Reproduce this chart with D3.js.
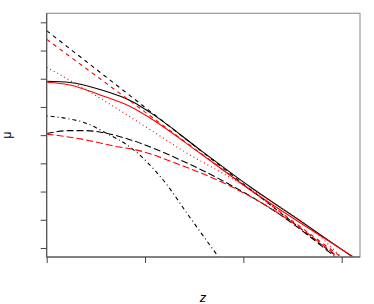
<!DOCTYPE html>
<html>
<head>
<meta charset="utf-8">
<script src="https://cdn.jsdelivr.net/npm/d3@7"></script>
<style>
  body { margin: 0; background: #fff; }
  svg { display: block; }
</style>
</head>
<body>
<div id="graph"></div>
<script>
// values (z on x, mu on y)
var zTicks = [0, 1, 2, 3];
var muTicks = [0, 1, 2, 3, 4, 5, 6, 7, 8];

// black solid
var zBlackSolid = [0, 0.237, 0.542, 0.878, 1.051, 1.56, 2.068, 2.577, 3.102];
var muBlackSolid = [5.912, 5.869, 5.621, 5.179, 4.807, 3.48, 2.17, 0.966, -0.297];
// red solid
var zRedSolid = [0, 0.237, 0.542, 0.878, 1.051, 1.56, 2.068, 2.577, 3.115];
var muRedSolid = [5.876, 5.781, 5.427, 4.966, 4.609, 3.356, 2.064, 0.896, -0.308];
// black short dash
var zBlackDash = [0, 1.457, 2.95];
var muBlackDash = [7.703, 3.745, -0.308];
// red short dash
var zRedDash = [0, 1.5, 2.99];
var muRedDash = [7.398, 3.53, -0.308];
// red dotted
var zRedDot = [0, 0.4, 1.05, 1.355, 1.864, 2.372, 2.71, 2.99];
var muRedDot = [6.407, 5.61, 4.2, 3.513, 2.5, 1.45, 0.63, -0.308];
// black dot-dash
var zBlackDotDash = [0, 0.196, 0.4, 0.603, 0.847, 1.183, 1.457, 1.745];
var muBlackDotDash = [4.683, 4.595, 4.425, 4.074, 3.58, 2.418, 1.08, -0.308];
// black long dash
var zBlackLong = [0, 0.227, 0.4, 0.603, 0.847, 1.356, 1.864, 2.372, 2.931];
var muBlackLong = [4.06, 4.159, 4.159, 4.07, 3.84, 3.126, 2.244, 1.182, -0.308];
// red long dash
var zRedLong = [0, 0.4, 0.705, 0.908, 1.356, 1.864, 2.372, 2.96];
var muRedLong = [4.04, 3.832, 3.6, 3.478, 2.947, 2.2, 1.2, -0.308];

var frameWidth = 374,
  frameHeight = 304;
var plot = { left: 46.7, right: 360, top: 13.3, bottom: 257 };

var xScale = d3.scaleLinear().domain([0, (360 - 46.7) / 98.33]).range([plot.left, plot.right]);
var yScale = d3.scaleLinear().domain([-0.32, 8.32]).range([plot.bottom, plot.top]);

var svg = d3
  .select("#graph")
  .append("svg")
  .attr("width", frameWidth)
  .attr("height", frameHeight);

svg.append("clipPath").attr("id", "clip")
  .append("rect")
  .attr("x", plot.left)
  .attr("y", plot.top)
  .attr("width", plot.right - plot.left)
  .attr("height", plot.bottom - plot.top);

var series = [
  { z: zBlackSolid, mu: muBlackSolid, color: "#000", dash: null },
  { z: zRedSolid, mu: muRedSolid, color: "#f00", dash: null },
  { z: zBlackDash, mu: muBlackDash, color: "#000", dash: "4,4" },
  { z: zRedDash, mu: muRedDash, color: "#f00", dash: "4,4" },
  { z: zRedDot, mu: muRedDot, color: "#f00", dash: "1,3" },
  { z: zBlackDotDash, mu: muBlackDotDash, color: "#000", dash: "1,3,4,3" },
  { z: zBlackLong, mu: muBlackLong, color: "#000", dash: "7,3" },
  { z: zRedLong, mu: muRedLong, color: "#f00", dash: "7,3" }
];

var line = d3
  .line()
  .x(function (d) { return xScale(d[0]); })
  .y(function (d) { return yScale(d[1]); })
  .curve(d3.curveMonotoneX);

svg
  .append("g")
  .attr("clip-path", "url(#clip)")
  .selectAll("path")
  .data(series)
  .enter()
  .append("path")
  .attr("d", function (s) {
    return line(s.z.map(function (z, i) { return [z, s.mu[i]]; }));
  })
  .attr("fill", "none")
  .attr("stroke", function (s) { return s.color; })
  .attr("stroke-width", 1.1)
  .attr("stroke-dasharray", function (s) { return s.dash; });

// box
svg
  .append("rect")
  .attr("x", plot.left)
  .attr("y", plot.top)
  .attr("width", plot.right - plot.left)
  .attr("height", plot.bottom - plot.top)
  .attr("fill", "none")
  .attr("stroke", "#999")
  .attr("stroke-width", 1.2);

// axes: ticks only, no labels
var xAxis = svg
  .append("g")
  .attr("transform", "translate(0," + plot.bottom + ")")
  .call(d3.axisBottom(xScale).tickValues(zTicks).tickSize(6).tickFormat(""));
xAxis.select(".domain").attr("d", "M" + plot.left + ",0H" + plot.right).attr("stroke", "#444");
xAxis.selectAll(".tick line").attr("stroke", "#444");

var yAxis = svg
  .append("g")
  .attr("transform", "translate(" + plot.left + ",0)")
  .call(d3.axisLeft(yScale).tickValues(muTicks).tickSize(6).tickFormat(""));
yAxis.select(".domain").attr("d", "M0," + plot.top + "V" + plot.bottom).attr("stroke", "#444");
yAxis.selectAll(".tick line").attr("stroke", "#444");

// axis titles
svg
  .append("text")
  .attr("transform", "translate(11,135) rotate(-90)")
  .attr("text-anchor", "middle")
  .attr("font-family", "Liberation Sans, Arial, sans-serif")
  .attr("font-size", "12px")
  .text("μ");

svg
  .append("text")
  .attr("x", 203)
  .attr("y", 302)
  .attr("text-anchor", "middle")
  .attr("font-family", "Liberation Sans, Arial, sans-serif")
  .attr("font-style", "italic")
  .attr("font-size", "13px")
  .text("z");
</script>
</body>
</html>
